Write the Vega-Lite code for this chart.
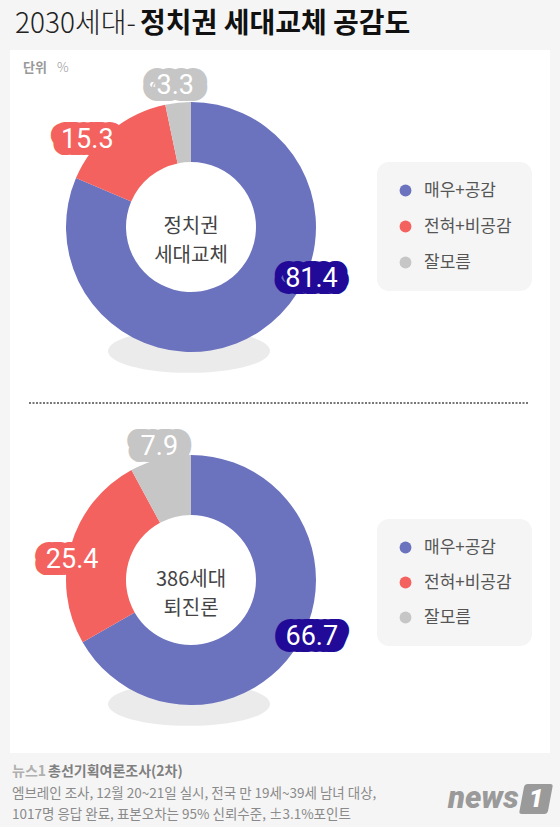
{
  "$schema": "https://vega.github.io/schema/vega-lite/v6.json",
  "background": "#f5f5f5",
  "padding": {"left": 10, "right": 10, "top": 0, "bottom": 0},
  "spacing": 0,
  "bounds": "flush",
  "config": {"view": {"stroke": null}, "font": "Noto Sans CJK KR"},
  "datasets": {
    "poll": [
      {"q": "정치권 세대교체", "cat": "매우+공감", "ord": 1, "value": 81.4},
      {"q": "정치권 세대교체", "cat": "전혀+비공감", "ord": 2, "value": 15.3},
      {"q": "정치권 세대교체", "cat": "잘모름", "ord": 3, "value": 3.3},
      {"q": "386세대 퇴진론", "cat": "매우+공감", "ord": 1, "value": 66.7},
      {"q": "386세대 퇴진론", "cat": "전혀+비공감", "ord": 2, "value": 25.4},
      {"q": "386세대 퇴진론", "cat": "잘모름", "ord": 3, "value": 7.9}
    ]
  },
  "resolve": {"scale": {"color": "independent", "theta": "independent"}, "legend": {"color": "independent"}},
  "vconcat": [
    {
      "width": 540, "height": 50,
      "view": {"fill": null, "stroke": null},
      "data": {"values": [{}]},
      "layer": [
        {"mark": {"type": "text", "text": "2030세대-", "x": 5, "y": 25, "align": "left", "baseline": "middle", "font": "Noto Sans CJK KR", "fontSize": 28, "fontWeight": 300, "fill": "#222"}, "encoding": {}},
        {"mark": {"type": "text", "text": "정치권 세대교체 공감도", "x": 130, "y": 25, "align": "left", "baseline": "middle", "font": "Noto Sans CJK KR", "fontSize": 28, "fontWeight": 700, "fill": "#111"}, "encoding": {}}
      ]
    },
    {
      "width": 540, "height": 352,
      "view": {"fill": "white", "stroke": null},
      "data": {"name": "poll"},
      "transform": [{"filter": "datum.q === '정치권 세대교체'"}],
      "layer": [
        {"transform": [{"filter": "datum.ord === 1"}], "mark": {"type": "point", "shape": "M-1,0A1,0.27,0,1,0,1,0A1,0.27,0,1,0,-1,0Z", "size": 26244, "filled": true, "fill": "#ebebeb", "opacity": 1, "strokeWidth": 0, "x": 179, "y": 301}, "encoding": {}},
        {"mark": {"type": "arc", "innerRadius": 65, "outerRadius": 125, "x": 181, "y": 177},
         "encoding": {
           "theta": {"field": "value", "type": "quantitative", "stack": true},
           "order": {"field": "ord", "type": "quantitative"},
           "color": {"field": "cat", "type": "nominal",
             "scale": {"domain": ["매우+공감", "전혀+비공감", "잘모름"], "range": ["#6b72be", "#f4625f", "#c6c6c6"]},
             "legend": {"orient": "none", "legendX": 367, "legendY": 112, "title": null, "fillColor": "#f5f5f5", "cornerRadius": 12, "padding": 20, "symbolType": "circle", "symbolSize": 140, "symbolStrokeWidth": 0, "symbolOpacity": 1, "labelFont": "Noto Sans CJK KR", "labelFontSize": 17, "labelColor": "#555", "labelOffset": 10, "rowPadding": 18}}
         }},
        {"transform": [{"filter": "datum.ord === 1"}], "mark": {"type": "text", "x": 181, "y": 177, "lineBreak": " ", "fontSize": 20, "lineHeight": 29, "font": "Noto Sans CJK KR", "fill": "#444", "baseline": "middle", "align": "center"}, "encoding": {"text": {"field": "q"}}},

        {"mark": {"type": "text", "radius": 135, "x": 181, "y": 177, "dx": 33, "dy": -61, "font": "Roboto", "fontSize": 14, "fill": "#210a98", "stroke": "#210a98", "strokeWidth": 22, "strokeJoin": "round", "baseline": "middle", "align": "center"},
         "encoding": {"theta": {"field": "value", "type": "quantitative", "stack": true}, "order": {"field": "ord", "type": "quantitative"}, "text": {"condition": {"test": "datum.cat === '매우+공감'", "field": "value", "type": "quantitative", "format": ".1f"}, "value": ""}}},
        {"mark": {"type": "text", "radius": 135, "x": 181, "y": 177, "dx": 59, "dy": -61, "font": "Roboto", "fontSize": 14, "fill": "#210a98", "stroke": "#210a98", "strokeWidth": 22, "strokeJoin": "round", "baseline": "middle", "align": "center"},
         "encoding": {"theta": {"field": "value", "type": "quantitative", "stack": true}, "order": {"field": "ord", "type": "quantitative"}, "text": {"condition": {"test": "datum.cat === '매우+공감'", "field": "value", "type": "quantitative", "format": ".1f"}, "value": ""}}},
        {"mark": {"type": "text", "radius": 135, "x": 181, "y": 177, "dx": 46, "dy": -61, "font": "Roboto", "fontSize": 27, "fill": "white", "baseline": "middle", "align": "center"},
         "encoding": {"theta": {"field": "value", "type": "quantitative", "stack": true}, "order": {"field": "ord", "type": "quantitative"}, "text": {"condition": {"test": "datum.cat === '매우+공감'", "field": "value", "type": "quantitative", "format": ".1f"}, "value": ""}}},

        {"mark": {"type": "text", "radius": 135, "x": 181, "y": 177, "dx": -31, "dy": 17, "font": "Roboto", "fontSize": 14, "fill": "#f4625f", "stroke": "#f4625f", "strokeWidth": 22, "strokeJoin": "round", "baseline": "middle", "align": "center"},
         "encoding": {"theta": {"field": "value", "type": "quantitative", "stack": true}, "order": {"field": "ord", "type": "quantitative"}, "text": {"condition": {"test": "datum.cat === '전혀+비공감'", "field": "value", "type": "quantitative", "format": ".1f"}, "value": ""}}},
        {"mark": {"type": "text", "radius": 135, "x": 181, "y": 177, "dx": -5, "dy": 17, "font": "Roboto", "fontSize": 14, "fill": "#f4625f", "stroke": "#f4625f", "strokeWidth": 22, "strokeJoin": "round", "baseline": "middle", "align": "center"},
         "encoding": {"theta": {"field": "value", "type": "quantitative", "stack": true}, "order": {"field": "ord", "type": "quantitative"}, "text": {"condition": {"test": "datum.cat === '전혀+비공감'", "field": "value", "type": "quantitative", "format": ".1f"}, "value": ""}}},
        {"mark": {"type": "text", "radius": 135, "x": 181, "y": 177, "dx": -18, "dy": 17, "font": "Roboto", "fontSize": 27, "fill": "white", "baseline": "middle", "align": "center"},
         "encoding": {"theta": {"field": "value", "type": "quantitative", "stack": true}, "order": {"field": "ord", "type": "quantitative"}, "text": {"condition": {"test": "datum.cat === '전혀+비공감'", "field": "value", "type": "quantitative", "format": ".1f"}, "value": ""}}},

        {"mark": {"type": "text", "radius": 142, "x": 181, "y": 177, "dx": -13, "dy": 0, "font": "Roboto", "fontSize": 14, "fill": "#c6c6c6", "stroke": "#c6c6c6", "strokeWidth": 22, "strokeJoin": "round", "baseline": "middle", "align": "center"},
         "encoding": {"theta": {"field": "value", "type": "quantitative", "stack": true}, "order": {"field": "ord", "type": "quantitative"}, "text": {"condition": {"test": "datum.cat === '잘모름'", "field": "value", "type": "quantitative", "format": ".1f"}, "value": ""}}},
        {"mark": {"type": "text", "radius": 142, "x": 181, "y": 177, "dx": 11, "dy": 0, "font": "Roboto", "fontSize": 14, "fill": "#c6c6c6", "stroke": "#c6c6c6", "strokeWidth": 22, "strokeJoin": "round", "baseline": "middle", "align": "center"},
         "encoding": {"theta": {"field": "value", "type": "quantitative", "stack": true}, "order": {"field": "ord", "type": "quantitative"}, "text": {"condition": {"test": "datum.cat === '잘모름'", "field": "value", "type": "quantitative", "format": ".1f"}, "value": ""}}},
        {"mark": {"type": "text", "radius": 142, "x": 181, "y": 177, "dx": -1, "dy": 0, "font": "Roboto", "fontSize": 27, "fill": "white", "baseline": "middle", "align": "center"},
         "encoding": {"theta": {"field": "value", "type": "quantitative", "stack": true}, "order": {"field": "ord", "type": "quantitative"}, "text": {"condition": {"test": "datum.cat === '잘모름'", "field": "value", "type": "quantitative", "format": ".1f"}, "value": ""}}},

        {"transform": [{"filter": "datum.ord === 1"}], "mark": {"type": "text", "text": "단위", "x": 13, "y": 18, "align": "left", "baseline": "middle", "font": "Noto Sans CJK KR", "fontSize": 13, "fontWeight": 700, "fill": "#999"}, "encoding": {}},
        {"transform": [{"filter": "datum.ord === 1"}], "mark": {"type": "text", "text": "%", "x": 47, "y": 18, "align": "left", "baseline": "middle", "font": "Noto Sans CJK KR", "fontSize": 13, "fontWeight": 300, "fill": "#999"}, "encoding": {}}
      ]
    },
    {
      "width": 540, "height": 351,
      "view": {"fill": "white", "stroke": null},
      "data": {"name": "poll"},
      "transform": [{"filter": "datum.q === '386세대 퇴진론'"}],
      "layer": [
        {"transform": [{"filter": "datum.ord === 1"}], "mark": {"type": "rule", "x": 19, "x2": 518, "strokeDash": [2, 1.5], "strokeWidth": 2, "color": "#777"}, "encoding": {"y": {"value": 1}}},
        {"transform": [{"filter": "datum.ord === 1"}], "mark": {"type": "point", "shape": "M-1,0A1,0.27,0,1,0,1,0A1,0.27,0,1,0,-1,0Z", "size": 26244, "filled": true, "fill": "#ebebeb", "opacity": 1, "strokeWidth": 0, "x": 179, "y": 302}, "encoding": {}},
        {"mark": {"type": "arc", "innerRadius": 65, "outerRadius": 125, "x": 181, "y": 178},
         "encoding": {
           "theta": {"field": "value", "type": "quantitative", "stack": true},
           "order": {"field": "ord", "type": "quantitative"},
           "color": {"field": "cat", "type": "nominal",
             "scale": {"domain": ["매우+공감", "전혀+비공감", "잘모름"], "range": ["#6b72be", "#f4625f", "#c6c6c6"]},
             "legend": {"orient": "none", "legendX": 367, "legendY": 117, "title": null, "fillColor": "#f5f5f5", "cornerRadius": 12, "padding": 20, "symbolType": "circle", "symbolSize": 140, "symbolStrokeWidth": 0, "symbolOpacity": 1, "labelFont": "Noto Sans CJK KR", "labelFontSize": 17, "labelColor": "#555", "labelOffset": 10, "rowPadding": 17}}
         }},
        {"transform": [{"filter": "datum.ord === 1"}], "mark": {"type": "text", "x": 181, "y": 178, "lineBreak": " ", "fontSize": 20, "lineHeight": 29, "font": "Noto Sans CJK KR", "fill": "#444", "baseline": "middle", "align": "center"}, "encoding": {"text": {"field": "q"}}},

        {"mark": {"type": "text", "radius": 135, "x": 181, "y": 178, "dx": -9, "dy": -11, "font": "Roboto", "fontSize": 14, "fill": "#210a98", "stroke": "#210a98", "strokeWidth": 22, "strokeJoin": "round", "baseline": "middle", "align": "center"},
         "encoding": {"theta": {"field": "value", "type": "quantitative", "stack": true}, "order": {"field": "ord", "type": "quantitative"}, "text": {"condition": {"test": "datum.cat === '매우+공감'", "field": "value", "type": "quantitative", "format": ".1f"}, "value": ""}}},
        {"mark": {"type": "text", "radius": 135, "x": 181, "y": 178, "dx": 17, "dy": -11, "font": "Roboto", "fontSize": 14, "fill": "#210a98", "stroke": "#210a98", "strokeWidth": 22, "strokeJoin": "round", "baseline": "middle", "align": "center"},
         "encoding": {"theta": {"field": "value", "type": "quantitative", "stack": true}, "order": {"field": "ord", "type": "quantitative"}, "text": {"condition": {"test": "datum.cat === '매우+공감'", "field": "value", "type": "quantitative", "format": ".1f"}, "value": ""}}},
        {"mark": {"type": "text", "radius": 135, "x": 181, "y": 178, "dx": 4, "dy": -11, "font": "Roboto", "fontSize": 27, "fill": "white", "baseline": "middle", "align": "center"},
         "encoding": {"theta": {"field": "value", "type": "quantitative", "stack": true}, "order": {"field": "ord", "type": "quantitative"}, "text": {"condition": {"test": "datum.cat === '매우+공감'", "field": "value", "type": "quantitative", "format": ".1f"}, "value": ""}}},

        {"mark": {"type": "text", "radius": 135, "x": 181, "y": 178, "dx": -2, "dy": 17, "font": "Roboto", "fontSize": 14, "fill": "#f4625f", "stroke": "#f4625f", "strokeWidth": 22, "strokeJoin": "round", "baseline": "middle", "align": "center"},
         "encoding": {"theta": {"field": "value", "type": "quantitative", "stack": true}, "order": {"field": "ord", "type": "quantitative"}, "text": {"condition": {"test": "datum.cat === '전혀+비공감'", "field": "value", "type": "quantitative", "format": ".1f"}, "value": ""}}},
        {"mark": {"type": "text", "radius": 135, "x": 181, "y": 178, "dx": 24, "dy": 17, "font": "Roboto", "fontSize": 14, "fill": "#f4625f", "stroke": "#f4625f", "strokeWidth": 22, "strokeJoin": "round", "baseline": "middle", "align": "center"},
         "encoding": {"theta": {"field": "value", "type": "quantitative", "stack": true}, "order": {"field": "ord", "type": "quantitative"}, "text": {"condition": {"test": "datum.cat === '전혀+비공감'", "field": "value", "type": "quantitative", "format": ".1f"}, "value": ""}}},
        {"mark": {"type": "text", "radius": 135, "x": 181, "y": 178, "dx": 11, "dy": 17, "font": "Roboto", "fontSize": 27, "fill": "white", "baseline": "middle", "align": "center"},
         "encoding": {"theta": {"field": "value", "type": "quantitative", "stack": true}, "order": {"field": "ord", "type": "quantitative"}, "text": {"condition": {"test": "datum.cat === '전혀+비공감'", "field": "value", "type": "quantitative", "format": ".1f"}, "value": ""}}},

        {"mark": {"type": "text", "radius": 137, "x": 181, "y": 178, "dx": -10, "dy": 0, "font": "Roboto", "fontSize": 14, "fill": "#c6c6c6", "stroke": "#c6c6c6", "strokeWidth": 22, "strokeJoin": "round", "baseline": "middle", "align": "center"},
         "encoding": {"theta": {"field": "value", "type": "quantitative", "stack": true}, "order": {"field": "ord", "type": "quantitative"}, "text": {"condition": {"test": "datum.cat === '잘모름'", "field": "value", "type": "quantitative", "format": ".1f"}, "value": ""}}},
        {"mark": {"type": "text", "radius": 137, "x": 181, "y": 178, "dx": 14, "dy": 0, "font": "Roboto", "fontSize": 14, "fill": "#c6c6c6", "stroke": "#c6c6c6", "strokeWidth": 22, "strokeJoin": "round", "baseline": "middle", "align": "center"},
         "encoding": {"theta": {"field": "value", "type": "quantitative", "stack": true}, "order": {"field": "ord", "type": "quantitative"}, "text": {"condition": {"test": "datum.cat === '잘모름'", "field": "value", "type": "quantitative", "format": ".1f"}, "value": ""}}},
        {"mark": {"type": "text", "radius": 137, "x": 181, "y": 178, "dx": 2, "dy": 0, "font": "Roboto", "fontSize": 27, "fill": "white", "baseline": "middle", "align": "center"},
         "encoding": {"theta": {"field": "value", "type": "quantitative", "stack": true}, "order": {"field": "ord", "type": "quantitative"}, "text": {"condition": {"test": "datum.cat === '잘모름'", "field": "value", "type": "quantitative", "format": ".1f"}, "value": ""}}}
      ]
    },
    {
      "width": 540, "height": 74,
      "view": {"fill": null, "stroke": null},
      "data": {"values": [{}]},
      "layer": [
        {"mark": {"type": "text", "text": "뉴스1", "x": 2, "y": 19, "align": "left", "baseline": "middle", "font": "Noto Sans CJK KR", "fontSize": 14, "fontWeight": 700, "fill": "#b0b0b0"}, "encoding": {}},
        {"mark": {"type": "text", "text": "총선기획여론조사(2차)", "x": 38, "y": 19, "align": "left", "baseline": "middle", "font": "Noto Sans CJK KR", "fontSize": 14, "fontWeight": 700, "fill": "#808080"}, "encoding": {}},
        {"mark": {"type": "text", "text": "엠브레인 조사, 12월 20~21일 실시, 전국 만 19세~39세 남녀 대상,", "x": 2, "y": 41, "align": "left", "baseline": "middle", "font": "Noto Sans CJK KR", "fontSize": 13.5, "fontWeight": 400, "fill": "#8a8a8a"}, "encoding": {}},
        {"mark": {"type": "text", "text": "1017명 응답 완료, 표본오차는 95% 신뢰수준, ±3.1%포인트", "x": 2, "y": 62, "align": "left", "baseline": "middle", "font": "Noto Sans CJK KR", "fontSize": 13.5, "fontWeight": 400, "fill": "#8a8a8a"}, "encoding": {}},
        {"mark": {"type": "text", "text": "news", "x": 438, "y": 46, "align": "left", "baseline": "middle", "font": "Roboto", "fontSize": 31, "fontWeight": 900, "fontStyle": "italic", "fill": "#9a9a9a"}, "encoding": {}},
        {"mark": {"type": "point", "shape": "M-0.55,-1L0.95,-1Q1.15,-1,1.1,-0.8L0.8,0.8Q0.75,1,0.55,1L-0.95,1Q-1.15,1,-1.1,0.8L-0.8,-0.8Q-0.75,-1,-0.55,-1Z", "size": 900, "filled": true, "fill": "#9a9a9a", "opacity": 1, "strokeWidth": 0, "x": 526, "y": 46}, "encoding": {}},
        {"mark": {"type": "text", "text": "1", "x": 526, "y": 46, "align": "center", "baseline": "middle", "font": "Roboto", "fontSize": 26, "fontWeight": 900, "fontStyle": "italic", "fill": "white"}, "encoding": {}}
      ]
    }
  ]
}
